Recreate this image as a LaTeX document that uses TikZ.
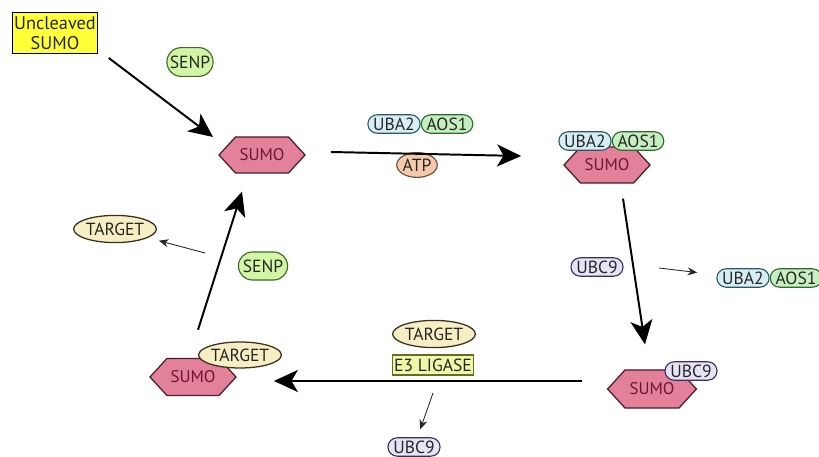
\documentclass[tikz,border=0pt]{standalone}
\usepackage{fontspec}
\setmainfont{PT Sans}
\usetikzlibrary{shapes.geometric,shapes.symbols,shapes.misc,arrows.meta,positioning,calc}
\definecolor{SumoPink}{HTML}{E4819A}
\definecolor{SumoEdge}{HTML}{4A1E2C}
\definecolor{SumoText}{HTML}{6E1530}
\definecolor{UbaBlue}{HTML}{D6EEF3}
\definecolor{UbaEdge}{HTML}{2E5865}
\definecolor{AosGreen}{HTML}{C6EFC0}
\definecolor{AosEdge}{HTML}{2D6A2D}
\definecolor{SenpGreen}{HTML}{D3F6A6}
\definecolor{SenpEdge}{HTML}{3D6A28}
\definecolor{TargetCream}{HTML}{F7EFC4}
\definecolor{TargetEdge}{HTML}{3A3020}
\definecolor{UbcLilac}{HTML}{E7E3F5}
\definecolor{UbcEdge}{HTML}{3A3060}
\definecolor{AtpPeach}{HTML}{F5C9AC}
\definecolor{AtpEdge}{HTML}{6B4A3A}
\definecolor{UnclYellow}{HTML}{FFFF3A}
\definecolor{LigaseYellow}{HTML}{F1F7A8}
\definecolor{LigaseEdge}{HTML}{6B6B20}
\definecolor{Ink}{HTML}{262626}

\begin{document}
\begin{tikzpicture}[x=0.025cm,y=-0.025cm,font=\fontsize{12.5}{13}\selectfont,text=Ink,
    sumo/.style={signal,signal to=east and west,signal pointer angle=95,draw=SumoEdge,fill=SumoPink,text=SumoText,line width=0.9pt,minimum width=2.15cm,minimum height=0.9cm,inner sep=1pt,font=\fontsize{12}{13}\selectfont},
    pill/.style={rounded rectangle,line width=0.8pt,minimum height=0.46cm,inner xsep=2pt,inner ysep=1pt},
    uba/.style={pill,draw=UbaEdge,fill=UbaBlue,minimum width=1.25cm},
    aos/.style={pill,draw=AosEdge,fill=AosGreen,minimum width=1.25cm},
    ubc/.style={pill,draw=UbcEdge,fill=UbcLilac,minimum width=1.27cm},
    senp/.style={rounded rectangle,draw=SenpEdge,fill=SenpGreen,line width=0.8pt,minimum width=1.15cm,minimum height=0.72cm,inner sep=1pt},
    target/.style={ellipse,draw=TargetEdge,fill=TargetCream,line width=0.9pt,minimum width=1.88cm,minimum height=0.68cm,inner sep=0pt},
    atp/.style={ellipse,draw=AtpEdge,fill=AtpPeach,line width=0.8pt,minimum width=0.78cm,minimum height=0.62cm,inner sep=0pt},
    big/.style={line width=1.4pt,draw=black,-{Stealth[length=0.6cm,width=0.55cm,inset=0.16cm]}},
    release/.style={line width=0.6pt,draw=Ink,-{Stealth[length=0.24cm,width=0.2cm]}}]
  \useasboundingbox[fill=white] (0,0) rectangle (819,457);

  % uncleaved precursor
  \node[draw=black,fill=UnclYellow,line width=0.9pt,align=center,minimum width=2.1cm,minimum height=1.02cm,inner sep=1pt,font=\fontsize{13}{14}\selectfont] (uncl) at (55,33) {Uncleaved\\SUMO};
  \node[senp] (senpA) at (190,62) {SENP};

  % free SUMO and E1 loading
  \node[sumo] (sumoA) at (262,155) {SUMO};
  \node[uba] (ubaA) at (394,124) {UBA2};
  \node[aos,right=0pt of ubaA] (aosA) {AOS1};
  \node[atp] (atp) at (417,165) {ATP};

  % SUMO on E1
  \node[sumo] (sumoB) at (607,165) {SUMO};
  \node[uba,minimum width=1.2cm] (ubaB) at (585,141) {UBA2};
  \node[aos,minimum width=1.2cm,right=0pt of ubaB] (aosB) {AOS1};

  % transfer to E2
  \node[ubc] (ubcA) at (597,267) {UBC9};
  \node[uba,minimum width=1.18cm] (ubaC) at (743,278) {UBA2};
  \node[aos,minimum width=1.25cm,right=0pt of ubaC] (aosC) {AOS1};
  \node[sumo,minimum width=2.22cm,minimum height=0.95cm] (sumoC) at (652,389) {SUMO};
  \node[ubc] (ubcB) at (691,371) {UBC9};

  % E3 step
  \node[target] (targetA) at (434,334) {TARGET};
  \node[draw=LigaseEdge,fill=LigaseYellow,line width=0.8pt,minimum width=2cm,minimum height=0.5cm,inner sep=1pt] (ligase) at (433,365) {E3 LIGASE};
  \node[ubc,minimum width=1.12cm] (ubcC) at (414,447) {UBC9};

  % conjugated target
  \node[sumo,minimum height=0.93cm] (sumoD) at (193,377) {SUMO};
  \node[target,minimum width=1.85cm,minimum height=0.65cm] (targetB) at (240,355) {TARGET};

  % deconjugation
  \node[senp,minimum width=1.3cm,minimum height=0.7cm] (senpB) at (263,266) {SENP};
  \node[target] (targetC) at (115,229) {TARGET};

  % main cycle
  \draw[big] ($(uncl.south east)+(11,4)$) -- ($(sumoA.center)+(-49,-18)$);
  \draw[big] ($(sumoA.east)+(25,-3)$) -- ($(sumoB.west)+(-42,-9)$);
  \draw[big] ($(sumoB.south)+(16,15)$) -- ($(sumoC.north)+(-7,-25)$);
  \draw[big] ($(sumoC.west)+(-25,-8)$) -- ($(sumoD.east)+(37,4)$);
  \draw[big] ($(sumoD.north)+(5,-28)$) -- ($(sumoA.south)+(-20,18)$);

  % released parts
  \coordinate (offE1) at (659,268);
  \coordinate (offE2) at (433,393);
  \coordinate (offT) at (205,253);
  \draw[release,shorten >=14pt] (offE1) -- (ubaC);
  \draw[release,shorten >=6pt] (offE2) -- (ubcC);
  \draw[release,shorten >=8pt] (offT) -- (targetC);
\end{tikzpicture}
\end{document}
